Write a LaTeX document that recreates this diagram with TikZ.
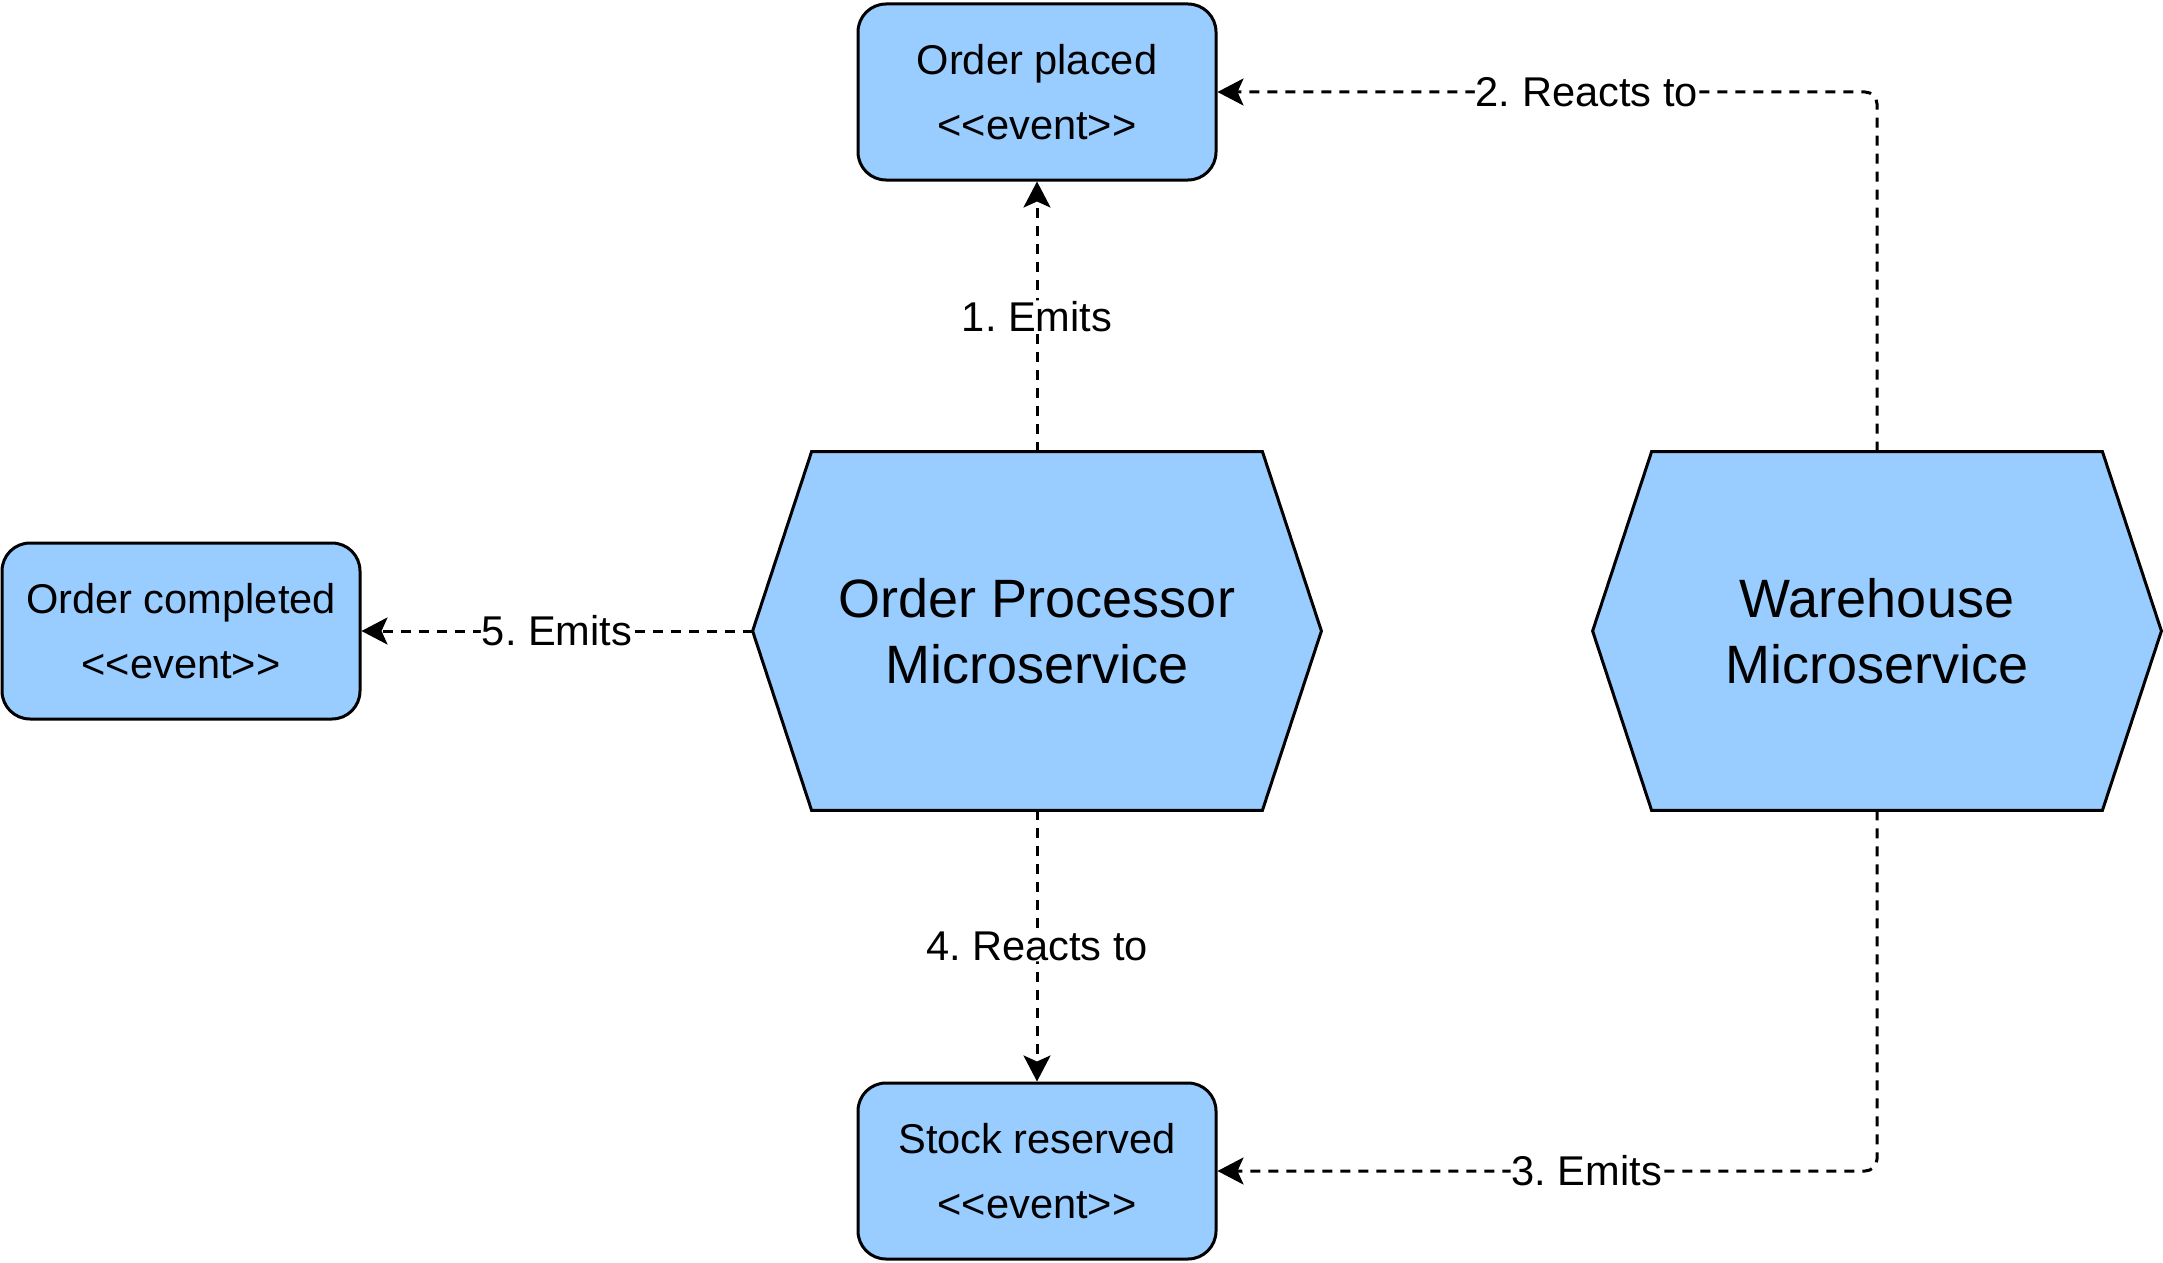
\documentclass[tikz,border=0pt]{standalone}
\usepackage{fontspec}
\setmainfont{Liberation Sans}
\usetikzlibrary{arrows.meta,backgrounds}
\definecolor{evblue}{RGB}{153,204,255}
\frenchspacing
\begin{document}
\begin{tikzpicture}[x=0.5pt,y=-0.5pt,
  event/.style={draw=black, line width=1.5pt, fill=evblue, rounded corners=14pt,
    minimum width=179pt, minimum height=88pt, align=center, inner sep=0pt,
    font=\fontsize{20.8}{32.5}\selectfont},
  svc/.style={minimum width=284pt, minimum height=179pt, inner sep=0pt, align=center,
    font=\fontsize{27}{33}\selectfont},
  hexline/.style={draw=black, line width=1.5pt, fill=evblue, line join=miter},
  conn/.style={line width=1.5pt, dash pattern=on 5pt off 4pt, rounded corners=6pt,
    -{Stealth[length=13pt,width=13.5pt,inset=3pt]}},
  lbl/.style={fill=white, inner sep=0.5pt, font=\fontsize{20.8}{25}\selectfont}]
\useasboundingbox (0,0) rectangle (2163,1263);

\node[event] (placed) at (1037,92) {Order placed\\<\kern0pt<event>\kern0pt>};
\node[event] (completed) at (181,631) {Order completed\\<\kern0pt<event>\kern0pt>};
\node[event] (stock) at (1037,1171) {Stock reserved\\<\kern0pt<event>\kern0pt>};

\node[svc] (op) at (1037,631) {Order Processor\\Microservice};
\node[svc] (wh) at (1877,631) {Warehouse\\Microservice};

\begin{scope}[on background layer]
  \foreach \n in {op,wh}{
    \path[hexline] (\n.west) -- ([xshift=29.5pt]\n.north west) -- ([xshift=-29.5pt]\n.north east)
      -- (\n.east) -- ([xshift=-29.5pt]\n.south east) -- ([xshift=29.5pt]\n.south west) -- cycle;
  }
\end{scope}

\draw[conn] (op.north) -- node[lbl]{1. Emits} (placed.south);
\draw[conn] (wh.north) |- node[lbl,pos=0.72]{2. Reacts to} (placed.east);
\draw[conn] (wh.south) |- node[lbl,pos=0.72]{3. Emits} (stock.east);
\draw[conn] (op.south) -- node[lbl]{4. Reacts to} (stock.north);
\draw[conn] (op.west) -- node[lbl]{5. Emits} (completed.east);
\end{tikzpicture}
\end{document}
